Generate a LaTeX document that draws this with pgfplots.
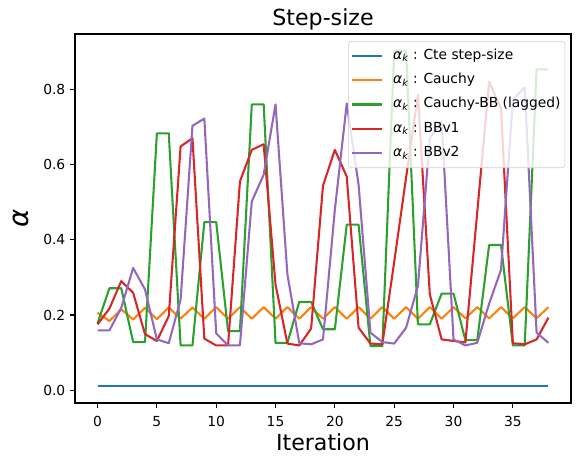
\documentclass[border=0pt]{standalone}
\usepackage{fontspec}
\setmainfont{DejaVu Sans}
\usepackage{pgfplots}
\pgfplotsset{compat=1.18}
\definecolor{c0}{HTML}{1F77B4}
\definecolor{c1}{HTML}{FF7F0E}
\definecolor{c2}{HTML}{2CA02C}
\definecolor{c3}{HTML}{D62728}
\definecolor{c4}{HTML}{9467BD}
\newcommand{\ak}{{\itshape α}\textsubscript{\itshape k}}
\begin{document}
\begin{tikzpicture}
\begin{axis}[
  scale only axis, width=4.96in, height=3.69in,
  at={(0,0)}, anchor=south west,
  xmin=-1.9, xmax=39.9, ymin=-0.034, ymax=0.947,
  xtick={0,5,10,15,20,25,30,35},
  ytick={0,0.2,0.4,0.6,0.8},
  tick align=outside, major tick length=3.5pt,
  xtick pos=bottom, ytick pos=left,
  tick style={black, line width=0.8pt},
  axis line style={line width=0.8pt},
  /pgf/number format/assume math mode=true,
  ticklabel style={font=\fontsize{10}{12}\selectfont},
  xticklabel style={yshift=-2.5pt},
  yticklabel style={/pgf/number format/.cd, fixed, fixed zerofill, precision=1},
  title={Step-size},
  every axis title/.style={at={(axis description cs:0.5,1.0217)}, anchor=base, font=\fontsize{16}{19}\selectfont},
  xlabel={Iteration},
  xlabel style={at={(axis description cs:0.5,-0.1274)}, anchor=base, font=\fontsize{16}{19}\selectfont},
  ylabel={\itshape α},
  ylabel style={at={(axis description cs:-0.1089,0.5)}, anchor=center, font=\fontsize{20}{24}\selectfont},
  legend cell align=left,
  legend image code/.code={\draw[#1] (0cm,0cm) -- (0.3in,0cm);},
  legend style={at={(axis description cs:0.988,0.981)}, anchor=north east,
    draw=black!20, fill=white, fill opacity=0.8, text opacity=1, rounded corners=2pt,
    font=\fontsize{10}{12}\selectfont,
    nodes={inner ysep=3pt, inner xsep=1pt, text height=7.5pt, text depth=2.5pt},
    row sep=1.6pt, column sep=6pt, inner xsep=2pt, inner ysep=2.5pt},
  every axis plot/.append style={line width=1.5pt, line join=round},
]
\addplot[c0] coordinates {(0,0.01)(1,0.01)(2,0.01)(3,0.01)(4,0.01)(5,0.01)(6,0.01)(7,0.01)(8,0.01)(9,0.01)(10,0.01)(11,0.01)(12,0.01)(13,0.01)(14,0.01)(15,0.01)(16,0.01)(17,0.01)(18,0.01)(19,0.01)(20,0.01)(21,0.01)(22,0.01)(23,0.01)(24,0.01)(25,0.01)(26,0.01)(27,0.01)(28,0.01)(29,0.01)(30,0.01)(31,0.01)(32,0.01)(33,0.01)(34,0.01)(35,0.01)(36,0.01)(37,0.01)(38,0.01)};
\addlegendentry{\ak\ : Cte step-size\hspace{3pt}}
\addplot[c1] coordinates {(0,0.206)(1,0.184)(2,0.215)(3,0.188)(4,0.219)(5,0.189)(6,0.220)(7,0.190)(8,0.220)(9,0.190)(10,0.221)(11,0.190)(12,0.221)(13,0.190)(14,0.221)(15,0.190)(16,0.221)(17,0.190)(18,0.221)(19,0.190)(20,0.221)(21,0.190)(22,0.221)(23,0.190)(24,0.221)(25,0.190)(26,0.221)(27,0.190)(28,0.221)(29,0.190)(30,0.221)(31,0.191)(32,0.221)(33,0.191)(34,0.221)(35,0.191)(36,0.221)(37,0.191)(38,0.221)};
\addlegendentry{\ak\ : Cauchy\hspace{3pt}}
\addplot[c2] coordinates {(0,0.178)(1,0.271)(2,0.271)(3,0.128)(4,0.128)(5,0.683)(6,0.683)(7,0.119)(8,0.119)(9,0.447)(10,0.447)(11,0.157)(12,0.157)(13,0.760)(14,0.760)(15,0.126)(16,0.126)(17,0.235)(18,0.235)(19,0.162)(20,0.162)(21,0.440)(22,0.440)(23,0.117)(24,0.117)(25,0.903)(26,0.903)(27,0.175)(28,0.175)(29,0.257)(30,0.257)(31,0.133)(32,0.133)(33,0.386)(34,0.386)(35,0.119)(36,0.119)(37,0.853)(38,0.853)};
\addlegendentry{\ak\ : Cauchy-BB (lagged)\hspace{3pt}}
\addplot[c3] coordinates {(0,0.175)(1,0.217)(2,0.290)(3,0.259)(4,0.149)(5,0.131)(6,0.197)(7,0.648)(8,0.670)(9,0.137)(10,0.119)(11,0.119)(12,0.555)(13,0.639)(14,0.654)(15,0.281)(16,0.124)(17,0.119)(18,0.164)(19,0.544)(20,0.639)(21,0.568)(22,0.166)(23,0.124)(24,0.122)(25,0.341)(26,0.565)(27,0.785)(28,0.255)(29,0.135)(30,0.131)(31,0.127)(32,0.474)(33,0.820)(34,0.750)(35,0.125)(36,0.122)(37,0.135)(38,0.193)};
\addlegendentry{\ak\ : BBv1\hspace{3pt}}
\addplot[c4] coordinates {(0,0.159)(1,0.159)(2,0.219)(3,0.325)(4,0.268)(5,0.135)(6,0.125)(7,0.241)(8,0.703)(9,0.722)(10,0.151)(11,0.119)(12,0.119)(13,0.502)(14,0.573)(15,0.760)(16,0.308)(17,0.125)(18,0.122)(19,0.135)(20,0.480)(21,0.762)(22,0.546)(23,0.153)(24,0.128)(25,0.124)(26,0.166)(27,0.277)(28,0.670)(29,0.714)(30,0.135)(31,0.119)(32,0.126)(33,0.230)(34,0.320)(35,0.772)(36,0.805)(37,0.153)(38,0.126)};
\addlegendentry{\ak\ : BBv2\hspace{3pt}}
\end{axis}
\pgfresetboundingbox
\path[use as bounding box] (-0.75in,-0.60in) rectangle (5.06in,4.03in);
\end{tikzpicture}
\end{document}
